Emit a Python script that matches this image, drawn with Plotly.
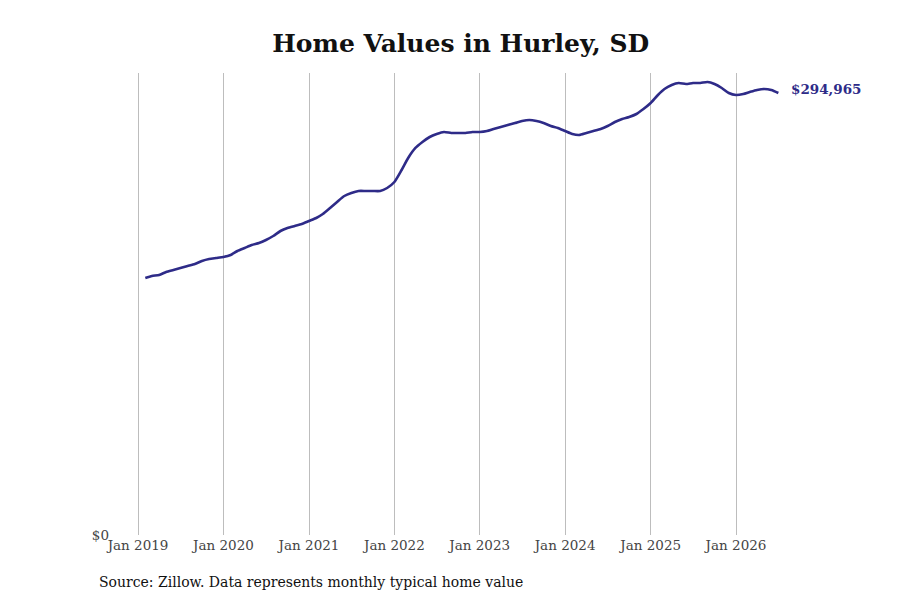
import plotly.graph_objects as go

# monthly typical home value, Feb 2019 - Jul 2026
months = [
    "2019-02-01", "2019-03-01", "2019-04-01", "2019-05-01", "2019-06-01", "2019-07-01",
    "2019-08-01", "2019-09-01", "2019-10-01", "2019-11-01", "2019-12-01",
    "2020-01-01", "2020-02-01", "2020-03-01", "2020-04-01", "2020-05-01", "2020-06-01",
    "2020-07-01", "2020-08-01", "2020-09-01", "2020-10-01", "2020-11-01", "2020-12-01",
    "2021-01-01", "2021-02-01", "2021-03-01", "2021-04-01", "2021-05-01", "2021-06-01",
    "2021-07-01", "2021-08-01", "2021-09-01", "2021-10-01", "2021-11-01", "2021-12-01",
    "2022-01-01", "2022-02-01", "2022-03-01", "2022-04-01", "2022-05-01", "2022-06-01",
    "2022-07-01", "2022-08-01", "2022-09-01", "2022-10-01", "2022-11-01", "2022-12-01",
    "2023-01-01", "2023-02-01", "2023-03-01", "2023-04-01", "2023-05-01", "2023-06-01",
    "2023-07-01", "2023-08-01", "2023-09-01", "2023-10-01", "2023-11-01", "2023-12-01",
    "2024-01-01", "2024-02-01", "2024-03-01", "2024-04-01", "2024-05-01", "2024-06-01",
    "2024-07-01", "2024-08-01", "2024-09-01", "2024-10-01", "2024-11-01", "2024-12-01",
    "2025-01-01", "2025-02-01", "2025-03-01", "2025-04-01", "2025-05-01", "2025-06-01",
    "2025-07-01", "2025-08-01", "2025-09-01", "2025-10-01", "2025-11-01", "2025-12-01",
    "2026-01-01", "2026-02-01", "2026-03-01", "2026-04-01", "2026-05-01", "2026-06-01",
    "2026-07-01",
]
values = [
    171506, 172841, 173508, 175510, 176845, 178180,
    179514, 180849, 182851, 184186, 184853,
    185521, 186855, 189525, 191527, 193529, 194863,
    196865, 199535, 202871, 204873, 206208, 207543,
    209545, 211547, 214216, 218220, 222224, 226228,
    228230, 229565, 229565, 229565, 229565, 231567,
    235571, 243579, 251587, 258261, 262265, 265601,
    267603, 268938, 268271, 268271, 268271, 268938,
    268938, 269605, 270940, 272275, 273609, 274944,
    276279, 276946, 276279, 274944, 272942, 271607,
    269605, 267603, 266936, 268271, 269605, 270940,
    272942, 275611, 277613, 278948, 280950, 284287,
    288291, 293630, 297634, 300303, 301638, 300970,
    301638, 301638, 302305, 300970, 298301, 294965,
    293630, 294297, 295632, 296966, 297634, 296966,
    294965,
]
tick_dates = ["2019-01-01", "2020-01-01", "2021-01-01", "2022-01-01",
              "2023-01-01", "2024-01-01", "2025-01-01", "2026-01-01"]
tick_labels = ["Jan 2019", "Jan 2020", "Jan 2021", "Jan 2022",
               "Jan 2023", "Jan 2024", "Jan 2025", "Jan 2026"]
last_label = "$294,965"

line_color = "#2e2b88"
serif = "DejaVu Serif"

fig = go.Figure()
fig.add_trace(go.Scatter(
    x=months, y=values, mode="lines",
    line=dict(color=line_color, width=2.6, shape="spline", smoothing=0.6),
    hoverinfo="x+y", showlegend=False,
))

fig.add_annotation(
    x=months[-1], y=values[-1], xref="x", yref="y",
    text="<b>%s</b>" % last_label, showarrow=False,
    xanchor="left", xshift=11, yshift=4,
    font=dict(family=serif, size=13.5, color=line_color),
)
fig.add_annotation(
    x=-0.0195, y=-0.102, xref="paper", yref="paper",
    text="Source: Zillow. Data represents monthly typical home value",
    showarrow=False, xanchor="left", yanchor="middle",
    font=dict(family=serif, size=14, color="#111111"),
)

fig.update_layout(
    width=900, height=600,
    margin=dict(l=102, r=128, t=65, b=73),
    paper_bgcolor="white", plot_bgcolor="white",
    title=dict(text="<b>Home Values in Hurley, SD</b>", x=0.503, xanchor="center",
               y=0.942, yanchor="middle",
               font=dict(family=serif, size=25, color="#111111")),
    xaxis=dict(
        range=["2018-09-03", "2026-07-08"],
        tickvals=tick_dates, ticktext=tick_labels,
        showgrid=True, gridcolor="#bdbdbd", gridwidth=1,
        showline=False, zeroline=False, ticks="",
        tickfont=dict(family=serif, size=13.5, color="#444444"),
    ),
    yaxis=dict(
        range=[0, 308300],
        tickvals=[0], ticktext=["$0"],
        showgrid=False, zeroline=False, showline=False, ticks="",
        tickfont=dict(family=serif, size=13.5, color="#444444"),
    ),
)

fig.write_html("out.html")
